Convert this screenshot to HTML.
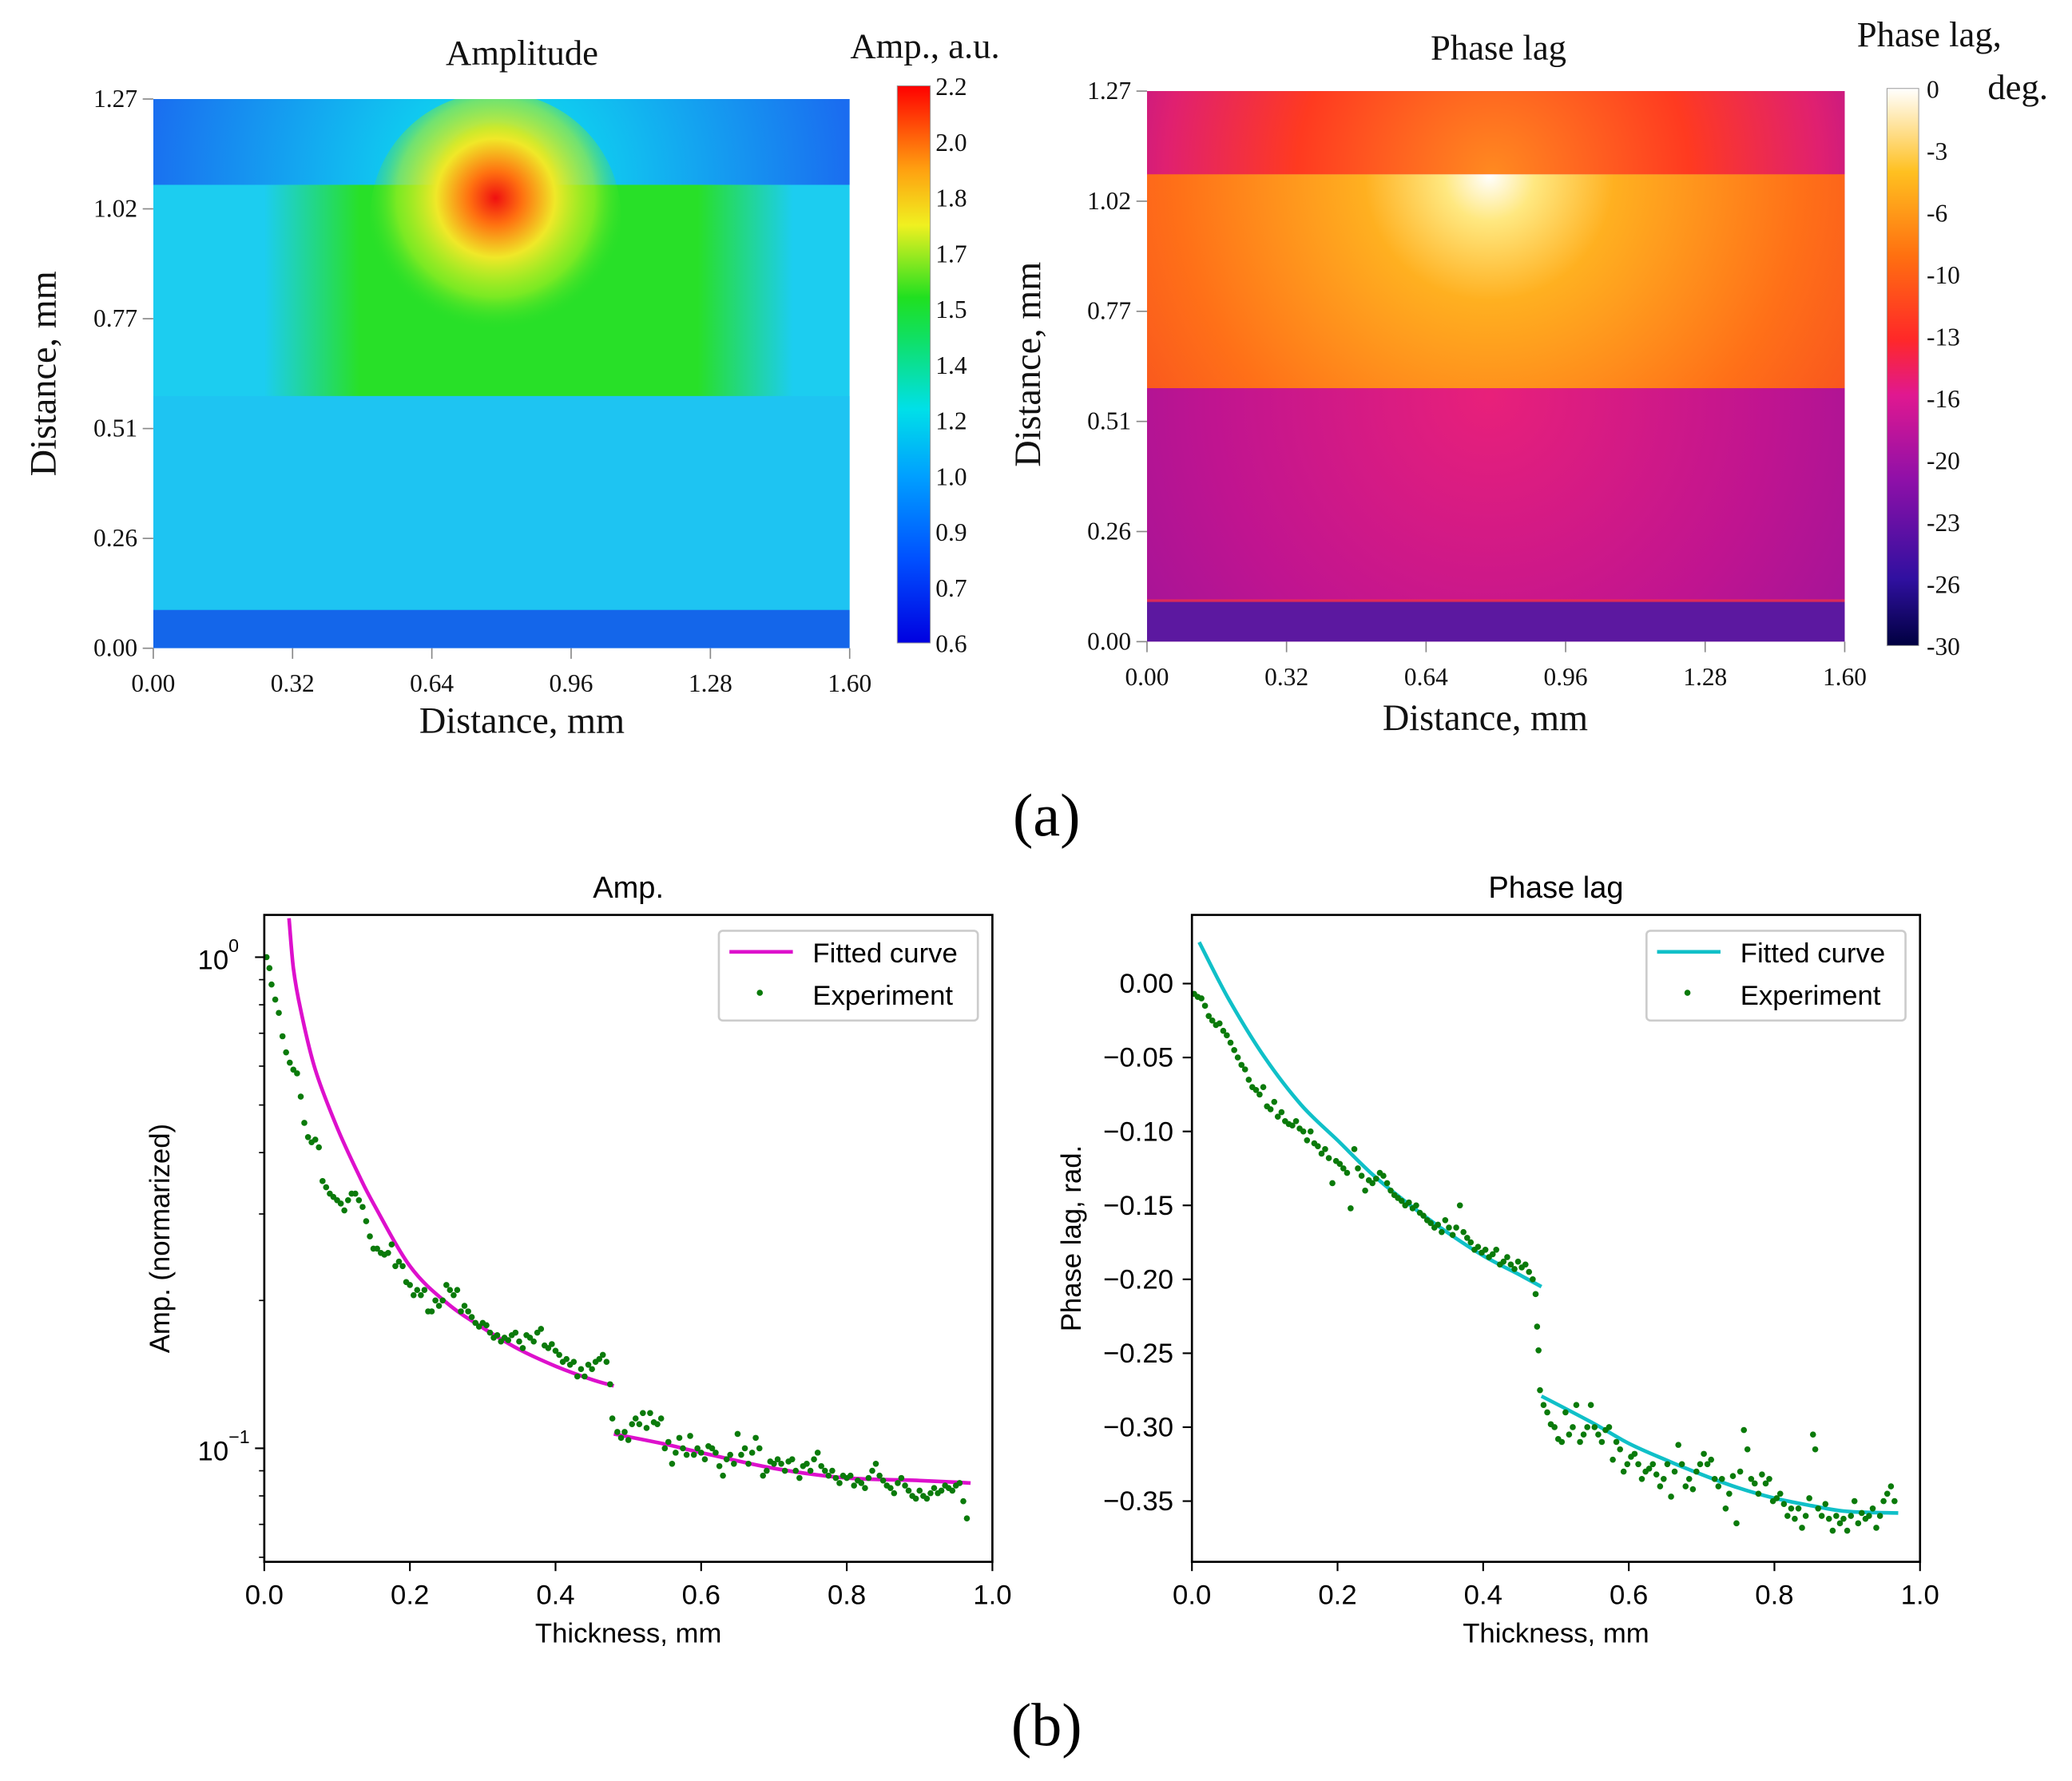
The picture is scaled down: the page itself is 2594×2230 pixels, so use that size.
<!DOCTYPE html>
<html><head><meta charset="utf-8"><style>
html,body{margin:0;padding:0;background:#fff}
svg{display:block}
.ser{font-family:"Liberation Serif",serif}
.sans{font-family:"Liberation Sans",sans-serif}
</style></head><body>
<svg id="root" xmlns="http://www.w3.org/2000/svg" width="2594" height="2230" viewBox="0 0 1568 1349" preserveAspectRatio="none">
<defs>
<clipPath id="clipA"><rect x="116" y="75" width="527" height="416"/></clipPath>
<clipPath id="clipP"><rect x="868" y="69" width="528" height="417"/></clipPath>
<linearGradient id="jet" x1="0" y1="1" x2="0" y2="0">
<stop offset="0" stop-color="#0000e0"/><stop offset="0.15" stop-color="#0050ff"/><stop offset="0.3" stop-color="#00a0ff"/><stop offset="0.42" stop-color="#00e0e8"/><stop offset="0.55" stop-color="#10e060"/><stop offset="0.62" stop-color="#20e020"/><stop offset="0.75" stop-color="#f0f020"/><stop offset="0.85" stop-color="#ffa010"/><stop offset="1" stop-color="#ff0000"/></linearGradient>
<linearGradient id="pcb" x1="0" y1="1" x2="0" y2="0">
<stop offset="0" stop-color="#000040"/><stop offset="0.12" stop-color="#3010a0"/><stop offset="0.3" stop-color="#9010a8"/><stop offset="0.45" stop-color="#e01890"/><stop offset="0.55" stop-color="#ff2828"/><stop offset="0.7" stop-color="#ff7010"/><stop offset="0.85" stop-color="#ffc020"/><stop offset="1" stop-color="#ffffff"/></linearGradient>
<radialGradient id="aTop" cx="375" cy="140" r="270" gradientUnits="userSpaceOnUse"><stop offset="0" stop-color="#20e8d0"/><stop offset="0.3" stop-color="#10c8f0"/><stop offset="1" stop-color="#1a6cf0"/></radialGradient>
<linearGradient id="aGreen" x1="0" x2="1"><stop offset="0" stop-color="#28e028" stop-opacity="0"/><stop offset="0.18" stop-color="#28e028"/><stop offset="0.82" stop-color="#28e028"/><stop offset="1" stop-color="#28e028" stop-opacity="0"/></linearGradient>
<radialGradient id="aDome" cx="375" cy="140" r="48" gradientUnits="userSpaceOnUse"><stop offset="0" stop-color="#f02010"/><stop offset="0.35" stop-color="#ff9010"/><stop offset="0.55" stop-color="#f0f020"/><stop offset="0.7" stop-color="#40e030"/><stop offset="0.9" stop-color="#30e060"/><stop offset="1" stop-color="#30e060" stop-opacity="0"/></radialGradient>
<radialGradient id="aBlob" cx="375" cy="150" r="100" gradientUnits="userSpaceOnUse"><stop offset="0" stop-color="#f01010"/><stop offset="0.2" stop-color="#ff7010"/><stop offset="0.45" stop-color="#f0e828"/><stop offset="0.75" stop-color="#b0f020" stop-opacity="0.6"/><stop offset="1" stop-color="#30e030" stop-opacity="0"/></radialGradient>
<radialGradient id="pTop" cx="1130" cy="132" r="330" gradientUnits="userSpaceOnUse"><stop offset="0" stop-color="#ff8a20"/><stop offset="0.45" stop-color="#ff3a20"/><stop offset="0.75" stop-color="#e02070"/><stop offset="1" stop-color="#a010a0"/></radialGradient>
<radialGradient id="pMid" cx="1127" cy="133" r="430" gradientUnits="userSpaceOnUse"><stop offset="0" stop-color="#ffffff"/><stop offset="0.08" stop-color="#ffe880"/><stop offset="0.22" stop-color="#ffb020"/><stop offset="0.55" stop-color="#ff7018"/><stop offset="1" stop-color="#f03028"/></radialGradient>
<radialGradient id="pLow" cx="1127" cy="300" r="420" gradientUnits="userSpaceOnUse"><stop offset="0" stop-color="#e8207a"/><stop offset="0.5" stop-color="#c01490"/><stop offset="1" stop-color="#8a14a0"/></radialGradient>
</defs>

<g clip-path="url(#clipA)">
<rect x="116" y="75" width="527" height="416" fill="#1ccdf0"/>
<rect x="116" y="75" width="527" height="65" fill="url(#aTop)"/>
<rect x="200" y="140" width="400" height="160" fill="url(#aGreen)"/>
<rect x="116" y="300" width="527" height="162" fill="#1ec4f2"/>
<rect x="116" y="462" width="527" height="29" fill="#1466ea"/>
<circle cx="375" cy="140" r="48" fill="url(#aDome)"/>
<ellipse cx="375" cy="165" rx="95" ry="95" fill="url(#aBlob)"/>
</g>
<g class="ser" font-size="19" fill="#111">
<text x="395" y="49" font-size="27" text-anchor="middle">Amplitude</text>
<text x="700" y="44" font-size="27" text-anchor="middle">Amp.,  a.u.</text>
<text x="395" y="555" font-size="28" text-anchor="middle">Distance,  mm</text>
<text transform="translate(42,283) rotate(-90)" font-size="28" text-anchor="middle">Distance,  mm</text>
<g id="hmA"></g>
<rect x="679" y="65" width="25" height="422" fill="url(#jet)" stroke="#999" stroke-width="0.6"/>
<g id="cbA"></g>
</g>

<g clip-path="url(#clipP)">
<rect x="868" y="69" width="528" height="417" fill="#c0148c"/>
<rect x="868" y="69" width="528" height="63" fill="url(#pTop)"/>
<rect x="868" y="132" width="528" height="162" fill="url(#pMid)"/>
<rect x="868" y="294" width="528" height="161" fill="url(#pLow)"/>
<rect x="868" y="455" width="528" height="31" fill="#5c18a0"/>
<rect x="868" y="454" width="528" height="2" fill="#ff3040" opacity="0.7"/>
</g>
<g class="ser" font-size="19" fill="#111">
<text x="1134" y="45" font-size="27" text-anchor="middle">Phase lag</text>
<text x="1460" y="35" font-size="27" text-anchor="middle">Phase lag,</text>
<text x="1527" y="75" font-size="27" text-anchor="middle">deg.</text>
<text x="1124" y="553" font-size="28" text-anchor="middle">Distance,  mm</text>
<text transform="translate(787,276) rotate(-90)" font-size="28" text-anchor="middle">Distance,  mm</text>
<g id="hmP"></g>
<rect x="1428" y="67" width="24" height="422" fill="url(#pcb)" stroke="#999" stroke-width="0.6"/>
<g id="cbP"></g>
</g>
<text class="ser" x="792" y="633" font-size="46" text-anchor="middle">(a)</text>
<text class="ser" x="792" y="1322" font-size="46" text-anchor="middle">(b)</text>

<g class="sans" id="ampChart"></g>
<g class="sans" id="phaseChart"></g>
</svg>

<script>
const hmXTicks = ["0.00","0.32","0.64","0.96","1.28","1.60"];
const hmYTicks = ["0.00","0.26","0.51","0.77","1.02","1.27"];
const ampCbTicks = ["0.6","0.7","0.9","1.0","1.2","1.4","1.5","1.7","1.8","2.0","2.2"];
const phaseCbTicks = ["-30","-26","-23","-20","-16","-13","-10","-6","-3","0"];

const ampFitX1 = [0.034,0.04,0.05,0.07,0.1,0.13,0.15,0.2,0.25,0.3,0.35,0.4,0.45,0.48];
const ampFitY1 = [1.2,0.95,0.78,0.59,0.45,0.36,0.315,0.235,0.198,0.176,0.159,0.147,0.138,0.134];
const ampFitX2 = [0.48,0.55,0.6,0.7,0.8,0.9,0.97];
const ampFitY2 = [0.107,0.102,0.098,0.091,0.087,0.086,0.085];
const ampExpX = [0.003,0.007,0.01,0.015,0.02,0.025,0.03,0.035,0.04,0.045,0.05,0.055,0.06,0.065,0.07,0.075,0.08,0.085,0.09,0.095,0.1,0.105,0.11,0.115,0.12,0.125,0.13,0.135,0.14,0.145,0.15,0.155,0.16,0.165,0.17,0.175,0.18,0.185,0.19,0.195,0.2,0.205,0.21,0.215,0.22,0.225,0.23,0.235,0.24,0.245,0.25,0.255,0.26,0.265,0.27,0.275,0.28,0.285,0.29,0.295,0.3,0.305,0.31,0.315,0.32,0.325,0.33,0.335,0.34,0.345,0.35,0.355,0.36,0.365,0.37,0.375,0.38,0.385,0.39,0.395,0.4,0.405,0.41,0.415,0.42,0.425,0.43,0.435,0.44,0.445,0.45,0.455,0.46,0.465,0.47,0.475,
0.478,0.485,0.49,0.495,0.5,0.505,0.51,0.515,0.52,0.525,0.53,0.535,0.54,0.545,0.55,0.555,0.56,0.565,0.57,0.575,0.58,0.585,0.59,0.595,0.6,0.605,0.61,0.615,0.62,0.625,0.63,0.635,0.64,0.645,0.65,0.655,0.66,0.665,0.67,0.675,0.68,0.685,0.69,0.695,0.7,0.705,0.71,0.715,0.72,0.725,0.73,0.735,0.74,0.745,0.75,0.755,0.76,0.765,0.77,0.775,0.78,0.785,0.79,0.795,0.8,0.805,0.81,0.815,0.82,0.825,0.83,0.835,0.84,0.845,0.85,0.855,0.86,0.865,0.87,0.875,0.88,0.885,0.89,0.895,0.9,0.905,0.91,0.915,0.92,0.925,0.93,0.935,0.94,0.945,0.95,0.955,0.96,0.965];
const ampExpY = [1.0,0.95,0.88,0.82,0.77,0.69,0.64,0.61,0.59,0.58,0.52,0.46,0.43,0.42,0.425,0.41,0.35,0.34,0.33,0.325,0.32,0.315,0.305,0.32,0.33,0.33,0.32,0.31,0.29,0.27,0.255,0.255,0.25,0.248,0.25,0.26,0.235,0.24,0.235,0.218,0.215,0.205,0.21,0.205,0.21,0.19,0.19,0.2,0.195,0.2,0.215,0.21,0.205,0.21,0.19,0.195,0.19,0.185,0.18,0.177,0.18,0.178,0.172,0.168,0.17,0.165,0.168,0.166,0.17,0.172,0.165,0.16,0.17,0.168,0.165,0.172,0.175,0.162,0.16,0.163,0.158,0.155,0.15,0.152,0.148,0.15,0.14,0.145,0.14,0.148,0.145,0.15,0.152,0.155,0.15,0.135,
0.115,0.108,0.105,0.108,0.104,0.112,0.115,0.112,0.118,0.11,0.118,0.113,0.112,0.115,0.1,0.103,0.093,0.098,0.105,0.1,0.097,0.106,0.097,0.1,0.098,0.095,0.101,0.1,0.098,0.092,0.088,0.095,0.097,0.093,0.107,0.097,0.1,0.093,0.098,0.105,0.1,0.088,0.09,0.094,0.093,0.095,0.093,0.09,0.094,0.095,0.09,0.087,0.092,0.093,0.09,0.095,0.098,0.092,0.09,0.088,0.09,0.087,0.085,0.088,0.087,0.088,0.084,0.086,0.085,0.083,0.087,0.09,0.093,0.088,0.086,0.084,0.083,0.081,0.085,0.087,0.084,0.082,0.08,0.079,0.082,0.08,0.079,0.081,0.083,0.081,0.082,0.084,0.083,0.082,0.084,0.085,0.078,0.072];

const phFitX1 = [0.01,0.05,0.1,0.15,0.2,0.25,0.3,0.35,0.4,0.45,0.48];
const phFitY1 = [0.028,-0.01,-0.05,-0.082,-0.106,-0.13,-0.15,-0.168,-0.184,-0.197,-0.205];
const phFitX2 = [0.48,0.55,0.6,0.65,0.7,0.75,0.8,0.85,0.9,0.97];
const phFitY2 = [-0.279,-0.297,-0.311,-0.322,-0.332,-0.341,-0.348,-0.353,-0.357,-0.358];
const phExpX = [0.003,0.008,0.013,0.018,0.023,0.028,0.033,0.038,0.043,0.048,0.053,0.058,0.063,0.068,0.073,0.078,0.083,0.088,0.093,0.098,0.103,0.108,0.113,0.118,0.123,0.128,0.133,0.138,0.143,0.148,0.153,0.158,0.163,0.168,0.173,0.178,0.183,0.188,0.193,0.198,0.203,0.208,0.213,0.218,0.223,0.228,0.233,0.238,0.243,0.248,0.253,0.258,0.263,0.268,0.273,0.278,0.283,0.288,0.293,0.298,0.303,0.308,0.313,0.318,0.323,0.328,0.333,0.338,0.343,0.348,0.353,0.358,0.363,0.368,0.373,0.378,0.383,0.388,0.393,0.398,0.403,0.408,0.413,0.418,0.423,0.428,0.433,0.438,0.443,0.448,0.453,0.458,0.463,0.468,0.472,0.474,0.476,
0.478,0.483,0.488,0.493,0.498,0.503,0.508,0.513,0.518,0.523,0.528,0.533,0.538,0.543,0.548,0.553,0.558,0.563,0.568,0.573,0.578,0.583,0.588,0.593,0.598,0.603,0.608,0.613,0.618,0.623,0.628,0.633,0.638,0.643,0.648,0.653,0.658,0.663,0.668,0.673,0.678,0.683,0.688,0.693,0.698,0.703,0.708,0.713,0.718,0.723,0.728,0.733,0.738,0.743,0.748,0.753,0.758,0.763,0.768,0.773,0.778,0.783,0.788,0.793,0.798,0.803,0.808,0.813,0.818,0.823,0.828,0.833,0.838,0.843,0.848,0.853,0.856,0.86,0.865,0.87,0.875,0.88,0.885,0.89,0.895,0.9,0.905,0.91,0.915,0.92,0.925,0.93,0.935,0.94,0.945,0.95,0.955,0.96,0.965];
const phExpY = [-0.007,-0.009,-0.01,-0.015,-0.022,-0.025,-0.028,-0.027,-0.032,-0.035,-0.04,-0.045,-0.05,-0.055,-0.058,-0.065,-0.07,-0.072,-0.075,-0.07,-0.083,-0.085,-0.08,-0.09,-0.087,-0.093,-0.095,-0.096,-0.093,-0.098,-0.1,-0.106,-0.1,-0.108,-0.11,-0.115,-0.112,-0.118,-0.135,-0.12,-0.122,-0.125,-0.128,-0.152,-0.112,-0.125,-0.13,-0.14,-0.133,-0.135,-0.132,-0.128,-0.13,-0.135,-0.14,-0.143,-0.145,-0.147,-0.15,-0.148,-0.152,-0.15,-0.155,-0.157,-0.16,-0.162,-0.165,-0.163,-0.168,-0.16,-0.165,-0.17,-0.165,-0.15,-0.168,-0.172,-0.175,-0.18,-0.178,-0.182,-0.18,-0.185,-0.183,-0.18,-0.19,-0.188,-0.185,-0.19,-0.193,-0.188,-0.192,-0.19,-0.195,-0.2,-0.21,-0.232,-0.248,
-0.275,-0.285,-0.29,-0.298,-0.3,-0.308,-0.31,-0.29,-0.305,-0.3,-0.285,-0.31,-0.305,-0.3,-0.285,-0.3,-0.305,-0.31,-0.302,-0.3,-0.322,-0.31,-0.315,-0.33,-0.325,-0.32,-0.318,-0.325,-0.335,-0.33,-0.328,-0.325,-0.332,-0.34,-0.335,-0.325,-0.347,-0.33,-0.312,-0.325,-0.34,-0.335,-0.342,-0.33,-0.325,-0.318,-0.325,-0.322,-0.335,-0.34,-0.335,-0.355,-0.345,-0.333,-0.365,-0.33,-0.302,-0.315,-0.335,-0.338,-0.345,-0.332,-0.338,-0.335,-0.35,-0.348,-0.345,-0.352,-0.36,-0.355,-0.362,-0.355,-0.368,-0.36,-0.348,-0.305,-0.315,-0.355,-0.36,-0.352,-0.362,-0.37,-0.36,-0.365,-0.362,-0.37,-0.36,-0.35,-0.365,-0.358,-0.362,-0.36,-0.355,-0.368,-0.36,-0.35,-0.345,-0.34,-0.35];

const xTicks = ["0.0","0.2","0.4","0.6","0.8","1.0"];
const phYTicks = ["0.00","-0.05","-0.10","-0.15","-0.20","-0.25","-0.30","-0.35"];

const NS = "http://www.w3.org/2000/svg";
function mk(parent, tag, attrs, txt){const e=document.createElementNS(NS,tag);for(const k in attrs)e.setAttribute(k,attrs[k]);if(txt!==undefined)e.textContent=txt;parent.appendChild(e);return e;}

function hmAxes(g, x0, x1, y0, y1, pre){
  hmXTicks.forEach((t,i)=>{const x=x0+(x1-x0)*i/(hmXTicks.length-1);
    mk(g,'line',{x1:x,x2:x,y1:y1,y2:y1+8,stroke:'#888','stroke-width':1});
    const e=mk(g,'text',{x:x,y:y1+33,'text-anchor':'middle'},t);
    
    });
  hmYTicks.forEach((t,i)=>{const y=y1-(y1-y0)*i/(hmYTicks.length-1);
    mk(g,'line',{x1:x0-8,x2:x0,y1:y,y2:y,stroke:'#888','stroke-width':1});
    const e=mk(g,'text',{x:x0-12,y:y+6,'text-anchor':'end'},t);
    
    });
}
hmAxes(document.getElementById('hmA'),116,643,75,491,'amp-map');
hmAxes(document.getElementById('hmP'),868,1396,69,486,'phase-map');
function cbTicks(g, labels, x, y0, y1, pre){
  labels.forEach((t,i)=>{const y=y1-(y1-y0)*i/(labels.length-1);
    const e=mk(g,'text',{x:x,y:y+7},t);
    
    });
}
cbTicks(document.getElementById('cbA'),ampCbTicks,708,65,487,'amp');
cbTicks(document.getElementById('cbP'),phaseCbTicks,1458,67,489,'phase');

function smoothPath(pts){
  let d='M'+pts[0][0].toFixed(1)+','+pts[0][1].toFixed(1);
  for(let i=0;i<pts.length-1;i++){
    const p0=pts[Math.max(0,i-1)],p1=pts[i],p2=pts[i+1],p3=pts[Math.min(pts.length-1,i+2)];
    const c1=[p1[0]+(p2[0]-p0[0])/6,p1[1]+(p2[1]-p0[1])/6];
    const c2=[p2[0]-(p3[0]-p1[0])/6,p2[1]-(p3[1]-p1[1])/6];
    d+=` C${c1[0].toFixed(1)},${c1[1].toFixed(1)} ${c2[0].toFixed(1)},${c2[1].toFixed(1)} ${p2[0].toFixed(1)},${p2[1].toFixed(1)}`;
  }
  return d;
}

function chart(g, opt){
  const L=opt.L,R=opt.R,T=693,B=1183;
  const sx=v=>L+(R-L)*v;
  const sy=opt.sy;
  const tt=mk(g,'text',{x:(L+R)/2,y:T-13,'font-size':23,'text-anchor':'middle'},opt.title);
  
  
  const lbl=mk(g,'text',{x:(L+R)/2,y:1244,'font-size':21,'text-anchor':'middle'},'Thickness, mm');
  
  
  const yl=mk(g,'text',{transform:`translate(${opt.ylx},${opt.ylc}) rotate(-90)`,'font-size':21,'text-anchor':'middle'},opt.ytitle);
  
  
  xTicks.forEach(t=>{const x=sx(parseFloat(t));
    mk(g,'line',{x1:x,x2:x,y1:B,y2:B+7,stroke:'#000','stroke-width':1.3});
    const e=mk(g,'text',{x:x,y:B+32,'font-size':21,'text-anchor':'middle'},t);
    
    });
  opt.yticks(g);
  const clipId=opt.pre+'-clip';
  const cp=mk(mk(g,'defs',{}),'clipPath',{id:clipId});mk(cp,'rect',{x:L,y:T,width:R-L,height:B-T});
  const plot=mk(g,'g',{'clip-path':`url(#${clipId})`});
  
  
  opt.fits.forEach(([xs,ys])=>{
    const p=mk(plot,'path',{d:smoothPath(xs.map((x,i)=>[sx(x),sy(ys[i])])),fill:'none',stroke:opt.color,'stroke-width':2.8,'stroke-linejoin':'round'});
    
    
  });
  opt.expX.forEach((x,i)=>{
    const c=mk(plot,'circle',{cx:sx(x).toFixed(1),cy:sy(opt.expY[i]).toFixed(1),r:2.3,fill:'#0a7a0a'});
    
    
  });
  mk(g,'rect',{x:L,y:T,width:R-L,height:B-T,fill:'none',stroke:'#000','stroke-width':1.6});
  const lg=mk(g,'g',{});
  
  
  const lx=R-207;
  mk(lg,'rect',{x:lx,y:705,width:196,height:68,rx:3,fill:'#fff',stroke:'#ccc','stroke-width':1.6});
  mk(lg,'line',{x1:lx+8,x2:lx+56,y1:721,y2:721,stroke:opt.color,'stroke-width':2.8});
  mk(lg,'text',{x:lx+71,y:729,'font-size':21},'Fitted curve');
  mk(lg,'circle',{cx:lx+31,cy:752,r:2.3,fill:'#0a7a0a'});
  mk(lg,'text',{x:lx+71,y:761,'font-size':21},'Experiment');
}

const aT=693,aB=1183;
const dec0=725, decPx=372;
const ampSy=v=>dec0-Math.log10(v)*decPx;
chart(document.getElementById('ampChart'),{L:200,R:751,pre:'amp',title:'Amp.',ytitle:'Amp. (normarized)',ylx:128,ylc:938,color:'#dd10cc',sy:ampSy,
  fits:[[ampFitX1,ampFitY1],[ampFitX2,ampFitY2]],expX:ampExpX,expY:ampExpY,
  yticks:(g)=>{
    [[1,'0'],[0.1,'\u22121']].forEach(([v,e])=>{const y=ampSy(v);
      mk(g,'line',{x1:193,x2:200,y1:y,y2:y,stroke:'#000','stroke-width':1.3});
      const t=mk(g,'text',{x:173,y:y+9,'font-size':21,'text-anchor':'end'},'10');
      
      
      mk(g,'text',{x:173,y:y-4,'font-size':14},e);});
    [0.06,0.07,0.08,0.09,0.2,0.3,0.4,0.5,0.6,0.7,0.8,0.9].forEach(v=>{const y=ampSy(v);
      if(y>aT&&y<aB)mk(g,'line',{x1:196,x2:200,y1:y,y2:y,stroke:'#000','stroke-width':1});});
  }});

const p0=745, pPerUnit=(1137-745)/0.35;
const phSy=v=>p0-v*pPerUnit;
chart(document.getElementById('phaseChart'),{L:902,R:1453,pre:'phase',title:'Phase lag',ytitle:'Phase lag, rad.',ylx:818,ylc:938,color:'#10c0c8',sy:phSy,
  fits:[[phFitX1,phFitY1],[phFitX2,phFitY2]],expX:phExpX,expY:phExpY,
  yticks:(g)=>{
    phYTicks.forEach(t=>{const v=parseFloat(t);const y=phSy(v);
      mk(g,'line',{x1:895,x2:902,y1:y,y2:y,stroke:'#000','stroke-width':1.3});
      const e=mk(g,'text',{x:888,y:y+7,'font-size':21,'text-anchor':'end'},t.replace('-','\u2212'));
      
      });
  }});
</script>
</body></html>
